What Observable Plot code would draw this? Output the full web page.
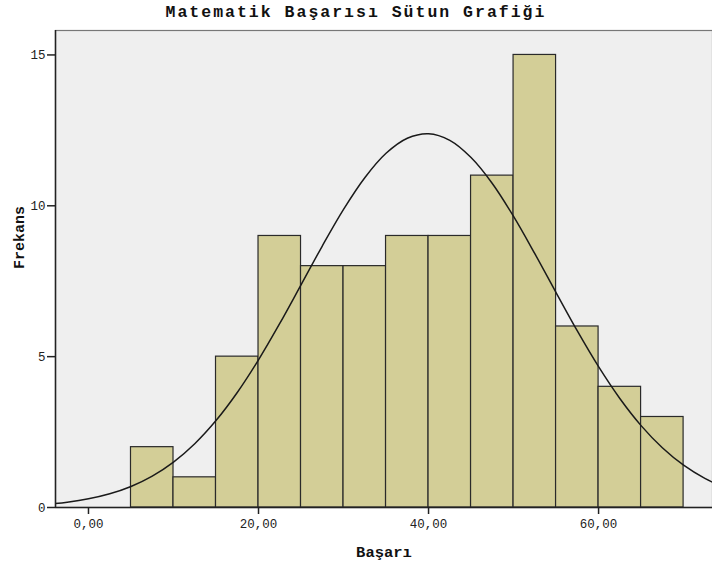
<!DOCTYPE html>
<html><head><meta charset="utf-8">
<script src="https://cdn.jsdelivr.net/npm/d3@7"></script>
<script src="https://cdn.jsdelivr.net/npm/@observablehq/plot@0.6"></script>
<style>
body{margin:0;background:#fff;}
#wrap{position:relative;width:712px;height:567px;}
#title{position:absolute;top:3px;left:0;width:712px;text-align:center;font:bold 16.5px "Liberation Mono",monospace;letter-spacing:2px;color:#111;}
#chart{position:absolute;top:0;left:0;}
</style>
</head><body>
<div id="wrap"><div id="chart"></div><div id="title">Matematik Başarısı Sütun Grafiği</div></div>
<script>
const binStart = [5,10,15,20,25,30,35,40,45,50,55,60,65];
const binEnd   = [10,15,20,25,30,35,40,45,50,55,60,65,70];
const frequency = [2,1,5,9,8,8,9,9,11,15,6,4,3];
const curveX = [-5,-2.5,0,2.5,5,7.5,10,12.5,15,17.5,20,22.5,25,27.5,30,32.5,35,37.5,40,42.5,45,47.5,50,52.5,55,57.5,60,62.5,65,67.5,70,72.5,75];
const curveY = [0.105,0.177,0.288,0.455,0.698,1.041,1.505,2.114,2.881,3.811,4.894,6.099,7.379,8.667,9.880,10.93,11.74,12.24,12.39,12.17,11.60,10.74,9.648,8.413,7.122,5.851,4.666,3.612,2.714,1.980,1.401,0.963,0.643];
const xTicks = [0,20,40,60];
const yTicks = [0,5,10,15];
const xLabel = "Başarı";
const yLabel = "Frekans";

const bars = binStart.map((s,i)=>({x1:s,x2:binEnd[i],y:frequency[i]}));
const curve = curveX.map((x,i)=>({x,y:curveY[i]}));
const fmt = d => d.toFixed(2).replace(".", ",");
const xDomain = [-3.88, 73.4];

const chart = Plot.plot({
  width:712, height:567,
  marginTop:30, marginBottom:60, marginLeft:55, marginRight:0,
  style:{fontFamily:"Liberation Mono, monospace", fontSize:"12.5px", color:"#222", background:"transparent"},
  x:{domain:xDomain},
  y:{domain:[0,15.81]},
  marks:[
    Plot.frame({fill:"#efefef", stroke:"#777", strokeWidth:1.2}),
    Plot.rectY(bars,{x1:"x1",x2:"x2",y:"y",fill:"#d3ce97",stroke:"#2a2a2a",strokeWidth:1.2,inset:0}),
    Plot.line(curve,{x:"x",y:"y",curve:"catmull-rom",stroke:"#1a1a1a",strokeWidth:1.5,clip:true}),
    Plot.ruleY([0],{stroke:"#222",strokeWidth:1.5}),
    Plot.ruleX([xDomain[0]],{stroke:"#222",strokeWidth:1.5}),
    Plot.axisX(xTicks,{tickFormat:fmt,tickSize:7,tickPadding:5,stroke:"#222",strokeWidth:1.5,letterSpacing:"1px",label:null}),
    Plot.axisY(yTicks,{tickSize:8,tickPadding:2,stroke:"#222",strokeWidth:1.5,label:null}),
    Plot.text([xLabel],{frameAnchor:"bottom",dy:49,fontWeight:"bold",fontSize:15.5,letterSpacing:"1.7px",fill:"#111"}),
    Plot.text([yLabel],{frameAnchor:"left",dx:-36,rotate:-90,fontWeight:"bold",fontSize:15,letterSpacing:"1.5px",fill:"#111"})
  ]
});
document.getElementById("chart").appendChild(chart);
</script>
</body></html>
